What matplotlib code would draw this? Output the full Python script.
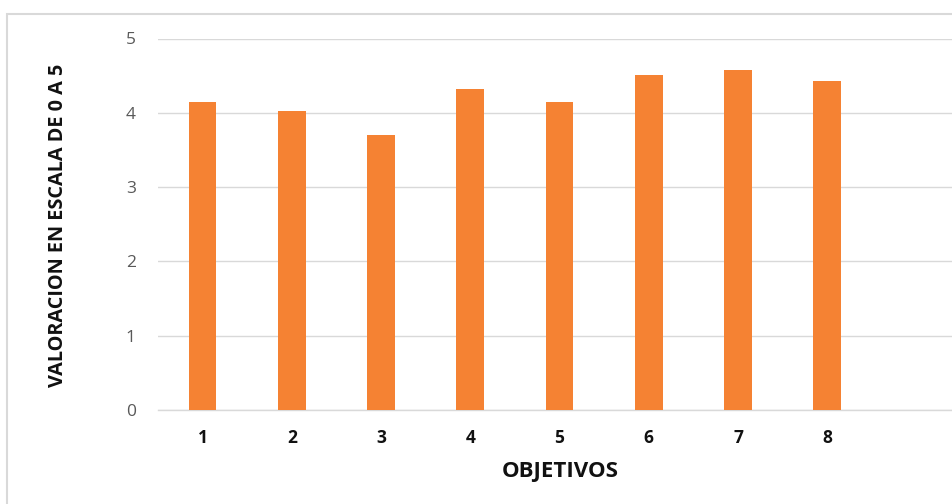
import matplotlib
matplotlib.use('Agg')
import matplotlib.pyplot as plt
from matplotlib.patches import Rectangle

# values
objetivos = ['1', '2', '3', '4', '5', '6', '7', '8']
valoracion = [4.15, 4.03, 3.70, 4.32, 4.15, 4.51, 4.57, 4.43]

plt.rcParams['font.family'] = ['Open Sans', 'DejaVu Sans']

W, H = 952, 504
fig = plt.figure(figsize=(W / 100, H / 100), dpi=100)

# outer chart border (runs off the right and bottom of the image)
fig.patches.append(Rectangle((7 / W, -0.1), 1.2, 1 - 14 / H + 0.1,
                             transform=fig.transFigure, fill=False,
                             edgecolor='#d9d9d9', linewidth=1.5))

# plot area extends a bit past the right edge, like the cropped original
left, right = 158 / W, 961 / W
bottom, top = 1 - 410 / H, 1 - 38.5 / H
ax = fig.add_axes([left, bottom, right - left, top - bottom])

x = list(range(len(objetivos)))
ax.bar(x, valoracion, width=0.31, color='#F58233', zorder=3)

ax.set_xlim(-0.5, 8.5)
ax.set_ylim(0, 5)
ax.set_yticks([0, 1, 2, 3, 4, 5])
ax.set_xticks(x)
ax.set_xticklabels(objetivos, fontweight='bold', fontsize=12.5, color='#111111')
ax.tick_params(axis='x', length=0, pad=14)
ax.tick_params(axis='y', length=0, pad=16, labelsize=12.5, labelcolor='#595959')

ax.grid(axis='y', color='#d9d9d9', linewidth=1, zorder=0)
for s in ['top', 'right', 'left']:
    ax.spines[s].set_visible(False)
ax.spines['bottom'].set_color('#d9d9d9')
ax.spines['bottom'].set_linewidth(1)

fig.text(560 / W, 1 - 471 / H, 'OBJETIVOS', ha='center', va='center',
         fontweight='bold', fontsize=16, color='#111111')
fig.text(58 / W, 1 - 225 / H, 'VALORACION EN ESCALA DE 0 A 5', ha='center',
         va='center', rotation=90, fontweight='bold', fontsize=14.3,
         color='#111111')

fig.savefig('out.png', dpi=100)
